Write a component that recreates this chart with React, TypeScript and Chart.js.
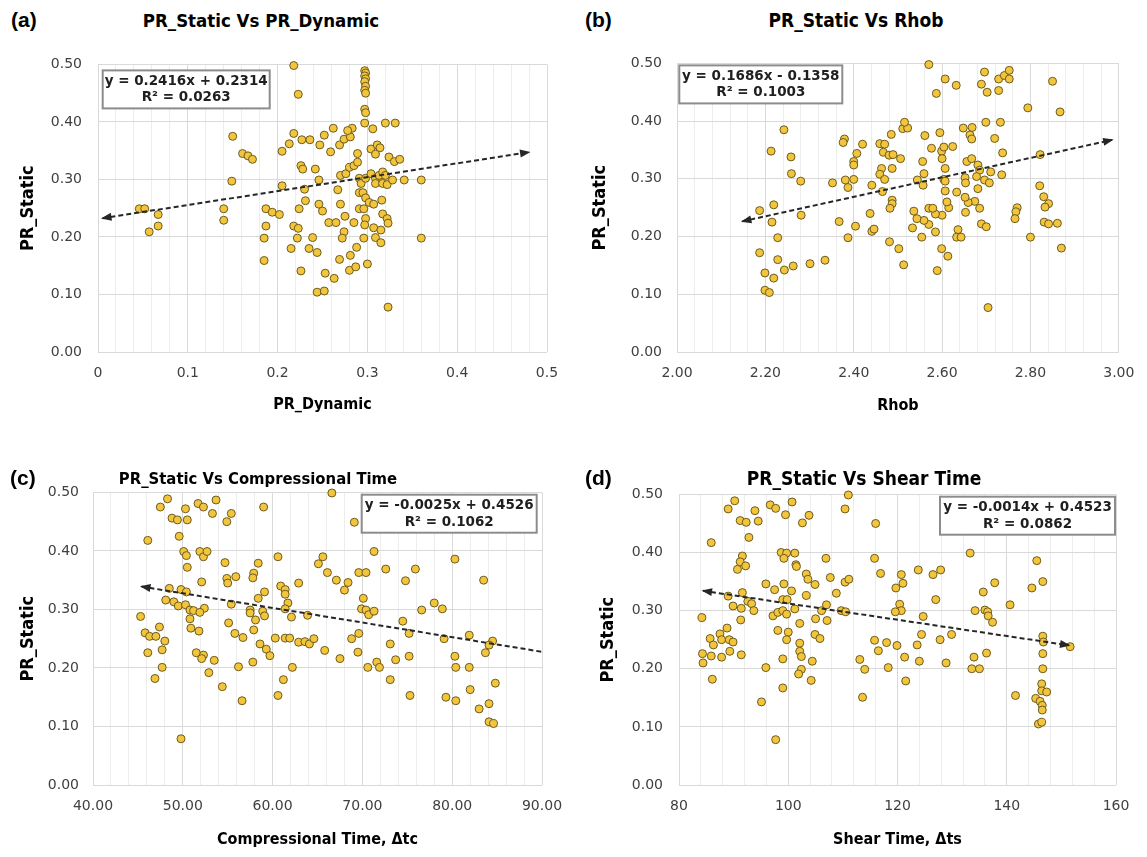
import { useEffect, useRef } from "react";
import { Chart, registerables } from "chart.js";

Chart.register(...registerables);

// ---------- Data: (a) PR_Static vs PR_Dynamic ----------
const dynamicX = [0.218,0.223,0.297,0.298,0.297,0.298,0.297,0.298,0.297,0.298,0.297,0.298,0.297,0.306,0.320,0.331,0.150,0.161,0.167,0.172,0.149,0.140,0.140,0.046,0.052,0.067,0.067,0.057,0.205,0.213,0.218,0.227,0.236,0.247,0.252,0.262,0.259,0.269,0.274,0.281,0.283,0.278,0.289,0.304,0.311,0.314,0.309,0.324,0.330,0.336,0.226,0.228,0.242,0.205,0.230,0.246,0.267,0.270,0.276,0.280,0.285,0.289,0.291,0.293,0.298,0.304,0.309,0.313,0.317,0.320,0.309,0.317,0.322,0.328,0.341,0.360,0.291,0.295,0.298,0.302,0.307,0.316,0.231,0.224,0.246,0.250,0.270,0.187,0.194,0.202,0.187,0.185,0.185,0.218,0.223,0.222,0.215,0.226,0.239,0.235,0.244,0.257,0.265,0.275,0.285,0.291,0.296,0.298,0.297,0.307,0.315,0.317,0.322,0.323,0.274,0.272,0.296,0.309,0.315,0.360,0.288,0.281,0.269,0.253,0.263,0.280,0.287,0.300,0.244,0.252,0.323];
const dynamicY = [0.498,0.448,0.489,0.485,0.480,0.475,0.470,0.462,0.455,0.450,0.422,0.416,0.398,0.388,0.398,0.398,0.375,0.345,0.341,0.335,0.297,0.249,0.229,0.249,0.249,0.239,0.219,0.209,0.349,0.362,0.380,0.369,0.369,0.360,0.377,0.389,0.348,0.360,0.370,0.374,0.389,0.385,0.345,0.353,0.360,0.355,0.344,0.339,0.331,0.335,0.324,0.318,0.318,0.289,0.283,0.299,0.282,0.307,0.310,0.321,0.324,0.330,0.302,0.293,0.302,0.310,0.302,0.307,0.313,0.307,0.293,0.293,0.291,0.299,0.299,0.299,0.277,0.277,0.268,0.260,0.257,0.264,0.263,0.249,0.257,0.245,0.257,0.249,0.243,0.239,0.219,0.198,0.159,0.219,0.215,0.198,0.180,0.141,0.199,0.180,0.173,0.225,0.225,0.236,0.225,0.249,0.249,0.232,0.221,0.216,0.212,0.240,0.232,0.224,0.209,0.198,0.198,0.199,0.190,0.198,0.182,0.168,0.161,0.137,0.128,0.142,0.148,0.153,0.104,0.106,0.078];

// ---------- Data: (b) PR_Static vs Rhob ----------
const rhobX = [2.570,2.587,2.607,2.632,2.696,2.689,2.702,2.728,2.728,2.741,2.752,2.752,2.850,2.794,2.867,2.699,2.732,2.648,2.668,2.663,2.667,2.719,2.737,2.735,2.595,2.561,2.576,2.599,2.604,2.624,2.556,2.559,2.544,2.557,2.600,2.607,2.604,2.607,2.607,2.633,2.656,2.667,2.681,2.685,2.710,2.678,2.652,2.653,2.696,2.707,2.681,2.822,2.821,2.830,2.841,2.833,2.831,2.841,2.861,2.870,2.800,2.770,2.767,2.765,2.689,2.700,2.674,2.659,2.653,2.685,2.652,2.636,2.633,2.643,2.615,2.611,2.600,2.585,2.570,2.579,2.570,2.585,2.559,2.543,2.536,2.533,2.554,2.599,2.613,2.589,2.513,2.502,2.481,2.459,2.470,2.467,2.485,2.480,2.489,2.506,2.511,2.522,2.515,2.463,2.459,2.470,2.487,2.465,2.487,2.487,2.482,2.420,2.407,2.400,2.400,2.400,2.379,2.376,2.352,2.381,2.387,2.441,2.437,2.441,2.446,2.404,2.387,2.367,2.335,2.301,2.263,2.243,2.228,2.228,2.215,2.219,2.187,2.187,2.199,2.219,2.199,2.209,2.213,2.242,2.258,2.259,2.280,2.281,2.704];
const rhobY = [0.498,0.448,0.473,0.462,0.485,0.464,0.450,0.453,0.473,0.479,0.488,0.473,0.469,0.423,0.416,0.398,0.398,0.388,0.389,0.376,0.369,0.370,0.345,0.307,0.380,0.375,0.353,0.348,0.355,0.356,0.330,0.309,0.298,0.289,0.335,0.318,0.299,0.296,0.279,0.277,0.330,0.335,0.324,0.315,0.312,0.304,0.302,0.293,0.298,0.293,0.283,0.342,0.288,0.269,0.257,0.251,0.225,0.222,0.223,0.180,0.199,0.250,0.243,0.231,0.222,0.217,0.261,0.259,0.242,0.249,0.268,0.212,0.199,0.199,0.250,0.260,0.237,0.239,0.249,0.249,0.221,0.208,0.228,0.231,0.244,0.215,0.199,0.179,0.166,0.141,0.151,0.179,0.191,0.361,0.360,0.346,0.377,0.341,0.342,0.335,0.387,0.388,0.398,0.318,0.308,0.299,0.318,0.278,0.263,0.257,0.249,0.360,0.344,0.330,0.324,0.299,0.369,0.363,0.293,0.298,0.285,0.289,0.240,0.209,0.213,0.218,0.198,0.226,0.159,0.153,0.149,0.142,0.160,0.198,0.225,0.255,0.245,0.172,0.137,0.128,0.107,0.103,0.348,0.385,0.338,0.309,0.296,0.237,0.077];

// ---------- Data: (c) PR_Static vs Compressional Time ----------
const compX = [66.6,69.1,48.3,47.5,48.8,49.4,50.5,50.3,51.7,52.3,53.3,53.7,55.4,54.9,59.0,46.1,49.6,50.1,50.4,50.5,51.9,52.3,52.7,54.7,54.9,55.0,55.9,52.1,57.9,58.4,57.8,60.6,62.9,65.1,65.6,66.1,67.1,68.0,68.4,69.6,70.4,71.3,72.6,74.8,75.9,80.3,83.5,48.5,49.8,50.4,48.1,49.0,49.5,50.3,50.8,51.2,52.4,51.9,50.8,45.3,55.4,57.5,57.5,58.4,59.1,58.9,59.1,58.1,55.1,60.9,61.4,61.4,61.7,61.4,62.1,63.9,70.1,69.9,70.4,70.7,71.3,76.6,78.0,78.9,74.5,75.2,79.1,81.9,84.5,84.1,83.7,47.4,45.8,46.3,47.0,48.0,47.7,46.1,50.9,51.8,55.8,56.7,57.9,58.6,59.3,59.7,60.3,61.4,61.9,62.9,63.6,64.1,64.6,65.8,67.5,68.8,69.6,69.5,70.6,71.6,71.9,73.1,73.7,75.2,73.1,75.3,80.3,80.4,81.9,82.0,84.8,79.3,80.4,83.0,84.1,84.1,84.6,51.5,52.3,52.1,53.5,52.9,47.7,46.9,56.2,57.8,54.4,56.6,60.6,61.2,62.2,49.8];
const compY = [0.499,0.449,0.489,0.475,0.456,0.453,0.453,0.472,0.481,0.475,0.464,0.487,0.464,0.450,0.475,0.418,0.425,0.399,0.392,0.372,0.399,0.390,0.399,0.380,0.353,0.345,0.356,0.347,0.362,0.379,0.354,0.390,0.345,0.378,0.390,0.363,0.350,0.333,0.346,0.363,0.363,0.399,0.369,0.349,0.369,0.386,0.350,0.336,0.334,0.330,0.316,0.313,0.306,0.308,0.299,0.298,0.302,0.295,0.284,0.288,0.309,0.299,0.294,0.319,0.330,0.297,0.289,0.282,0.277,0.340,0.334,0.326,0.311,0.301,0.287,0.290,0.319,0.301,0.299,0.291,0.297,0.299,0.311,0.301,0.280,0.259,0.250,0.256,0.246,0.239,0.226,0.270,0.260,0.254,0.254,0.246,0.231,0.226,0.268,0.263,0.259,0.252,0.265,0.241,0.232,0.221,0.251,0.251,0.251,0.244,0.245,0.241,0.250,0.230,0.216,0.250,0.259,0.227,0.201,0.210,0.201,0.241,0.214,0.220,0.180,0.153,0.220,0.201,0.201,0.163,0.174,0.150,0.144,0.130,0.139,0.108,0.105,0.226,0.222,0.216,0.213,0.192,0.201,0.182,0.202,0.210,0.168,0.144,0.153,0.180,0.201,0.079];

// ---------- Data: (d) PR_Static vs Shear Time ----------
const shearX = [111.0,110.4,116.0,90.2,89.0,91.2,92.3,93.9,94.5,96.7,97.7,99.5,100.7,102.6,103.8,92.8,85.9,91.6,91.2,92.2,90.7,98.7,99.7,101.2,99.2,101.4,101.5,103.3,103.6,104.9,106.9,107.7,108.8,110.4,111.1,95.9,97.5,99.2,100.6,99.0,99.8,103.3,91.6,89.0,89.9,91.4,92.6,93.3,93.7,91.3,84.2,97.2,98.1,99.0,99.7,101.2,102.1,105.0,106.1,107.0,107.1,109.7,110.5,104.9,105.8,98.1,100.0,99.7,102.1,102.1,102.4,104.4,102.4,101.9,104.2,99.0,99.0,95.9,95.1,97.7,88.8,87.5,85.7,86.3,87.8,89.2,89.9,89.3,87.8,85.9,84.3,84.4,91.4,86.1,113.1,114.0,113.6,115.8,116.5,118.0,118.3,116.9,115.8,120.7,121.0,119.7,120.4,120.7,119.6,119.9,121.3,121.5,123.8,126.5,127.9,127.0,124.7,124.4,123.6,124.0,127.8,129.9,128.9,133.3,134.2,135.7,137.8,136.0,136.5,136.6,137.4,134.0,136.3,133.6,135.0,140.6,141.6,145.5,144.6,146.6,146.6,146.7,146.6,146.6,146.4,146.4,147.3,145.3,146.1,146.5,146.5,145.8,146.4,151.6];
const shearY = [0.499,0.475,0.450,0.489,0.475,0.455,0.452,0.472,0.454,0.482,0.476,0.465,0.487,0.451,0.464,0.426,0.417,0.394,0.384,0.377,0.371,0.400,0.399,0.399,0.390,0.379,0.376,0.363,0.354,0.345,0.390,0.357,0.330,0.349,0.354,0.346,0.336,0.346,0.334,0.319,0.319,0.326,0.331,0.325,0.308,0.304,0.316,0.312,0.300,0.284,0.288,0.291,0.297,0.300,0.294,0.303,0.278,0.286,0.300,0.310,0.283,0.300,0.298,0.259,0.252,0.266,0.263,0.250,0.244,0.230,0.221,0.213,0.199,0.191,0.180,0.217,0.167,0.202,0.143,0.078,0.270,0.260,0.252,0.241,0.250,0.250,0.246,0.230,0.220,0.222,0.226,0.210,0.224,0.182,0.216,0.199,0.151,0.249,0.231,0.245,0.202,0.364,0.390,0.362,0.347,0.339,0.311,0.300,0.298,0.240,0.220,0.179,0.370,0.362,0.370,0.319,0.290,0.259,0.241,0.213,0.250,0.259,0.210,0.399,0.300,0.332,0.348,0.301,0.298,0.291,0.280,0.220,0.227,0.200,0.200,0.310,0.154,0.386,0.339,0.350,0.256,0.246,0.226,0.200,0.174,0.162,0.160,0.149,0.144,0.137,0.129,0.105,0.108,0.238];

// ---------- Trendlines: [slope, intercept, xFrom, xTo] ----------
const trendA = [0.2416, 0.2314, 0.005, 0.48];
const trendB = [0.1686, -0.1358, 2.148, 2.985];
const trendC = [-0.0025, 0.4526, 45.4, 90.0];
const trendD = [-0.0014, 0.4523, 84.4, 151.4];

const eqA = ["y = 0.2416x + 0.2314", "R² = 0.0263"];
const eqB = ["y = 0.1686x - 0.1358", "R² = 0.1003"];
const eqC = ["y = -0.0025x + 0.4526", "R² = 0.1062"];
const eqD = ["y = -0.0014x + 0.4523", "R² = 0.0862"];

// ---------- Tick labels ----------
const yTickLabels = ["0.00", "0.10", "0.20", "0.30", "0.40", "0.50"];
const xTicksA = ["0", "0.1", "0.2", "0.3", "0.4", "0.5"];
const xTicksB = ["2.00", "2.20", "2.40", "2.60", "2.80", "3.00"];
const xTicksC = ["40.00", "50.00", "60.00", "70.00", "80.00", "90.00"];
const xTicksD = ["80", "100", "120", "140", "160"];

const titles = [
  "PR_Static Vs PR_Dynamic",
  "PR_Static Vs Rhob",
  "PR_Static Vs Compressional Time",
  "PR_Static Vs Shear Time",
];
const letters = ["(a)", "(b)", "(c)", "(d)"];
const xTitles = ["PR_Dynamic", "Rhob", "Compressional Time, Δtc", "Shear Time, Δts"];
const yTitle = "PR_Static";

const SANS = "'DejaVu Sans', Verdana, sans-serif";
const COND = "'DejaVu Sans Condensed', 'DejaVu Sans', sans-serif";

type Layout = {
  canvas: { left: number; top: number; w: number; h: number };
  plot: { l: number; t: number; r: number; b: number };
  yLabRight: number;
  yTitleX: number;
  xTickY: number;
  xTitleY: number;
  eq: { anchor: "left" | "right"; dx: number; dy: number; w: number; h: number };
  title: { x: number; y: number; size: number };
  letter: { x: number; y: number };
  arrows: [boolean, boolean];
};

const layouts: Layout[] = [
  {
    canvas: { left: 0, top: 40, w: 575, h: 390 },
    plot: { l: 98, t: 53.5, r: 547, b: 352 },
    yLabRight: 82, yTitleX: 28, xTickY: 373, xTitleY: 405,
    eq: { anchor: "left", dx: 4.7, dy: 6, w: 167, h: 38 },
    title: { x: 261, y: 20, size: 18.5 }, letter: { x: 11, y: 20 }, arrows: [true, true],
  },
  {
    canvas: { left: 575, top: 40, w: 572, h: 390 },
    plot: { l: 677, t: 54, r: 1125, b: 352 },
    yLabRight: 662, yTitleX: 600, xTickY: 373, xTitleY: 406,
    eq: { anchor: "left", dx: 2.3, dy: 2, w: 163, h: 38 },
    title: { x: 856, y: 20, size: 19 }, letter: { x: 585, y: 20 }, arrows: [true, true],
  },
  {
    canvas: { left: 0, top: 470, w: 575, h: 387 },
    plot: { l: 93, t: 487, r: 542, b: 785 },
    yLabRight: 79, yTitleX: 28, xTickY: 806, xTitleY: 840,
    eq: { anchor: "right", dx: 5.3, dy: 2.3, w: 175, h: 38 },
    title: { x: 258, y: 478, size: 16.5 }, letter: { x: 10, y: 478 }, arrows: [true, false],
  },
  {
    canvas: { left: 575, top: 470, w: 572, h: 387 },
    plot: { l: 679, t: 487, r: 1116, b: 785 },
    yLabRight: 663, yTitleX: 608, xTickY: 806, xTitleY: 840,
    eq: { anchor: "right", dx: 1, dy: 2.3, w: 175, h: 38 },
    title: { x: 864, y: 478, size: 19 }, letter: { x: 585, y: 478 }, arrows: [true, true],
  },
];

type PanelData = {
  xs: number[];
  ys: number[];
  trend: number[];
  eq: string[];
  xTicks: string[];
  minorParts: number;
};

const panels: PanelData[] = [
  { xs: dynamicX, ys: dynamicY, trend: trendA, eq: eqA, xTicks: xTicksA, minorParts: 5 },
  { xs: rhobX, ys: rhobY, trend: trendB, eq: eqB, xTicks: xTicksB, minorParts: 5 },
  { xs: compX, ys: compY, trend: trendC, eq: eqC, xTicks: xTicksC, minorParts: 5 },
  { xs: shearX, ys: shearY, trend: trendD, eq: eqD, xTicks: xTicksD, minorParts: 5 },
];

const overlayPlugin = {
  id: "overlay",
  afterDatasetsDraw(chart: any, _args: any, opts: any) {
    const { ctx, chartArea } = chart;
    const meta = chart.getDatasetMeta(0);
    const pts = meta.data;
    if (pts && pts.length >= 2) {
      const p0 = pts[0];
      const p1 = pts[pts.length - 1];
      const head = (tip: any, from: any) => {
        const ang = Math.atan2(tip.y - from.y, tip.x - from.x);
        const len = 9;
        const w = 4;
        const bx = tip.x - len * Math.cos(ang);
        const by = tip.y - len * Math.sin(ang);
        ctx.save();
        ctx.fillStyle = "#262626";
        ctx.beginPath();
        ctx.moveTo(tip.x + 1.5 * Math.cos(ang), tip.y + 1.5 * Math.sin(ang));
        ctx.lineTo(bx + w * Math.sin(ang), by - w * Math.cos(ang));
        ctx.lineTo(bx - w * Math.sin(ang), by + w * Math.cos(ang));
        ctx.closePath();
        ctx.fill();
        ctx.restore();
      };
      if (opts.arrows[0]) head(p0, p1);
      if (opts.arrows[1]) head(p1, p0);
    }
    const e = opts.eq;
    const x = e.anchor === "left" ? chartArea.left + e.dx : chartArea.right - e.dx - e.w;
    const y = chartArea.top + e.dy;
    ctx.save();
    ctx.fillStyle = "#ffffff";
    ctx.fillRect(x, y, e.w, e.h);
    ctx.strokeStyle = "#8c8c8c";
    ctx.lineWidth = 2;
    ctx.strokeRect(x, y, e.w, e.h);
    ctx.fillStyle = "#1f1f1f";
    ctx.font = `bold 13.5px ${SANS}`;
    ctx.textAlign = "center";
    ctx.textBaseline = "middle";
    ctx.fillText(opts.lines[0], x + e.w / 2, y + 11);
    ctx.fillText(opts.lines[1], x + e.w / 2, y + 27.5);
    ctx.restore();
  },
};

function gridValues(labels: string[], parts: number): number[] {
  const vals = labels.map(Number);
  const out: number[] = [];
  for (let i = 0; i < vals.length - 1; i++) {
    const step = (vals[i + 1] - vals[i]) / parts;
    for (let k = 0; k < parts; k++) out.push(vals[i] + k * step);
  }
  out.push(vals[vals.length - 1]);
  return out;
}

function Panel({ idx }: { idx: number }) {
  const ref = useRef<HTMLCanvasElement>(null);
  const L = layouts[idx];
  const P = panels[idx];
  useEffect(() => {
    const majors = P.xTicks.map(Number);
    const span = majors[majors.length - 1] - majors[0];
    const tol = span * 1e-6;
    const majorIndex = (v: number) => majors.findIndex((m) => Math.abs(m - v) < tol);
    const xGrid = gridValues(P.xTicks, P.minorParts);
    const yVals = yTickLabels.map(Number);

    const pl = 6;
    const yWidth = L.plot.l - L.canvas.left - pl;
    const xHeight = L.canvas.top + L.canvas.h - L.plot.b;
    const tickFont = 14;
    const tickLh = tickFont * 1.2;
    const yTitleSize = 18;
    const xTitleSize = 16;

    const scatter = P.xs.slice(0, Math.min(P.xs.length, P.ys.length)).map((x, i) => ({ x, y: P.ys[i] }));
    const [m, b, x0, x1] = P.trend;
    const trendPts = [
      { x: x0, y: m * x0 + b },
      { x: x1, y: m * x1 + b },
    ];

    const chart = new Chart(ref.current as HTMLCanvasElement, {
      type: "scatter",
      data: {
        datasets: [
          {
            type: "line",
            data: trendPts,
            borderColor: "#262626",
            borderWidth: 2,
            borderDash: [5, 3],
            pointRadius: 0,
            fill: false,
            showLine: true,
            clip: false,
          } as any,
          {
            data: scatter,
            pointRadius: 4,
            pointBackgroundColor: "#F2C53D",
            pointBorderColor: "#6B5B1F",
            pointBorderWidth: 1,
            clip: false,
          } as any,
        ],
      },
      options: {
        responsive: false,
        maintainAspectRatio: false,
        animation: false,
        layout: {
          padding: {
            left: pl,
            top: L.plot.t - L.canvas.top,
            right: L.canvas.left + L.canvas.w - L.plot.r,
            bottom: 0,
          },
        },
        plugins: {
          legend: { display: false },
          tooltip: { enabled: false },
          title: { display: false },
          overlay: { arrows: L.arrows, eq: L.eq, lines: P.eq },
        } as any,
        scales: {
          x: {
            type: "linear",
            min: majors[0],
            max: majors[majors.length - 1],
            afterBuildTicks: (s: any) => {
              s.ticks = xGrid.map((v) => ({ value: v }));
            },
            afterFit: (s: any) => {
              s.height = xHeight;
            },
            ticks: {
              autoSkip: false,
              maxRotation: 0,
              minRotation: 0,
              padding: L.xTickY - L.plot.b - tickLh / 2,
              color: "#404040",
              font: { family: SANS, size: tickFont },
              callback: (v: any) => {
                const i = majorIndex(Number(v));
                return i >= 0 ? P.xTicks[i] : "";
              },
            },
            grid: {
              drawTicks: false,
              lineWidth: 1,
              color: (c: any) => (c.tick && majorIndex(c.tick.value) >= 0 ? "#d9d9d9" : "#ededed"),
            },
            border: { display: false },
            title: {
              display: true,
              text: xTitles[idx],
              color: "#000000",
              font: { family: COND, size: xTitleSize, weight: "bold" },
              padding: { top: 0, bottom: L.canvas.top + L.canvas.h - L.xTitleY - (xTitleSize * 1.2) / 2 },
            },
          } as any,
          y: {
            type: "linear",
            min: 0,
            max: 0.5,
            afterBuildTicks: (s: any) => {
              s.ticks = yVals.map((v) => ({ value: v }));
            },
            afterFit: (s: any) => {
              s.width = yWidth;
            },
            ticks: {
              autoSkip: false,
              padding: L.plot.l - L.yLabRight,
              color: "#404040",
              font: { family: SANS, size: tickFont },
              callback: (v: any) => {
                const i = yVals.findIndex((t) => Math.abs(t - Number(v)) < 1e-6);
                return i >= 0 ? yTickLabels[i] : "";
              },
            },
            grid: { drawTicks: false, color: "#d9d9d9", lineWidth: 1 },
            border: { display: false },
            title: {
              display: true,
              text: yTitle,
              color: "#000000",
              font: { family: COND, size: yTitleSize, weight: "bold" },
              padding: { top: L.yTitleX - (L.canvas.left + pl) - (yTitleSize * 1.2) / 2, bottom: 0 },
            },
          } as any,
        },
      },
      plugins: [overlayPlugin as any],
    });
    return () => chart.destroy();
  }, []);
  return (
    <canvas
      ref={ref}
      width={L.canvas.w}
      height={L.canvas.h}
      style={{ position: "absolute", left: L.canvas.left, top: L.canvas.top, width: L.canvas.w, height: L.canvas.h }}
    />
  );
}

export default function App() {
  return (
    <div
      style={{
        position: "fixed",
        left: 0,
        top: 0,
        width: 1147,
        height: 857,
        background: "#ffffff",
        overflow: "hidden",
      }}
    >
      {layouts.map((L, i) => (
        <Panel key={"p" + i} idx={i} />
      ))}
      {layouts.map((L, i) => (
        <div
          key={"t" + i}
          style={{
            position: "absolute",
            left: L.title.x,
            top: L.title.y,
            transform: "translate(-50%, -50%)",
            font: `bold ${L.title.size}px ${COND}`,
            color: "#000",
            whiteSpace: "nowrap",
          }}
        >
          {titles[i]}
        </div>
      ))}
      {layouts.map((L, i) => (
        <div
          key={"l" + i}
          style={{
            position: "absolute",
            left: L.letter.x,
            top: L.letter.y,
            transform: "translateY(-50%)",
            font: "bold 21px 'Liberation Sans', Arial, sans-serif",
            color: "#000",
            whiteSpace: "nowrap",
          }}
        >
          {letters[i]}
        </div>
      ))}
    </div>
  );
}
